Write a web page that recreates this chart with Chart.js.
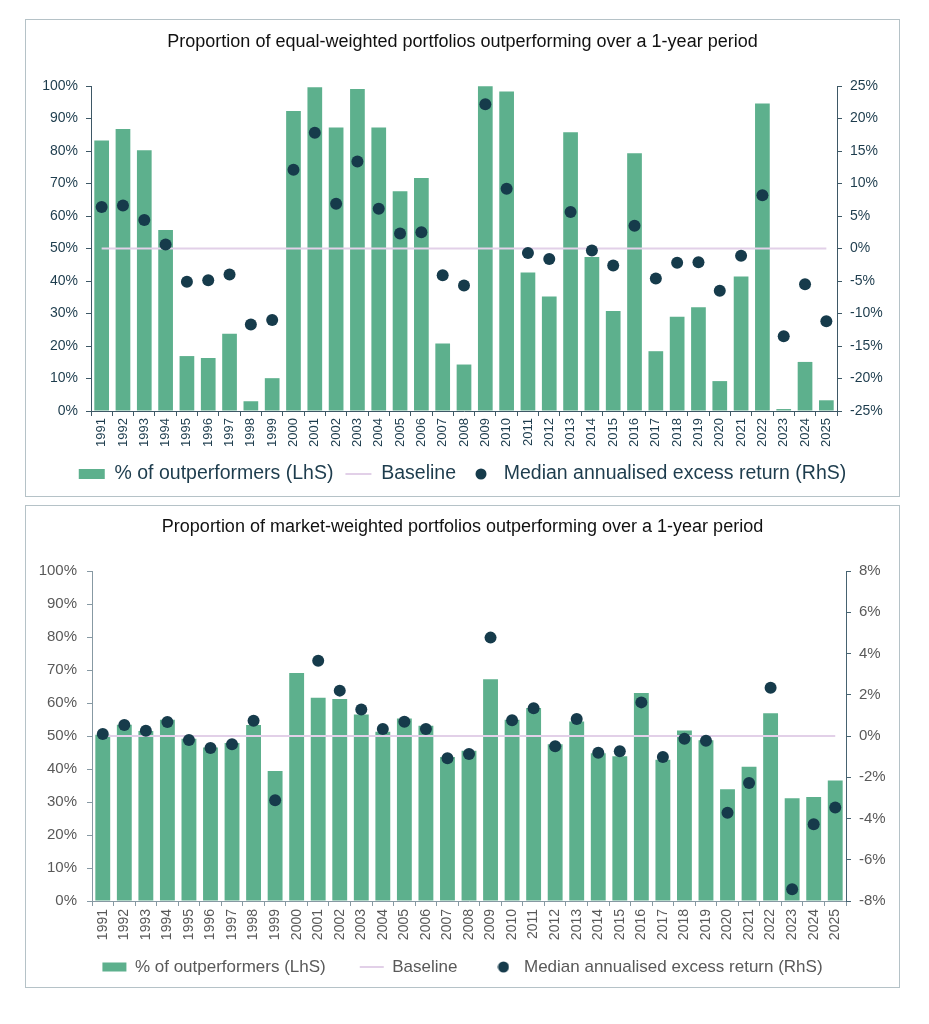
<!DOCTYPE html>
<html lang="en">
<head>
    <meta charset="UTF-8">
    <title>Outperforming portfolios over a 1-year period</title>
    <script src="https://cdn.jsdelivr.net/npm/chart.js"></script>
    <style>
        body {
            margin: 0;
            background: #fff;
            font-family: 'Liberation Sans', Arial, sans-serif;
        }
        .box {
            position: absolute;
            left: 25px;
            width: 873px;
            border: 1px solid #b5c2c7;
        }
        #boxTop { top: 19px; height: 476px; }
        #boxBottom { top: 505px; height: 481px; }
        canvas { display: block; }
    </style>
</head>
<body>

<div class="box" id="boxTop"><canvas id="equalChart" width="873" height="476"></canvas></div>
<div class="box" id="boxBottom"><canvas id="marketChart" width="873" height="481"></canvas></div>

<script>
    const years = ['1991', '1992', '1993', '1994', '1995', '1996', '1997', '1998', '1999', '2000',
        '2001', '2002', '2003', '2004', '2005', '2006', '2007', '2008', '2009', '2010',
        '2011', '2012', '2013', '2014', '2015', '2016', '2017', '2018', '2019', '2020',
        '2021', '2022', '2023', '2024', '2025'];

    // Equal-weighted: % of outperformers (LhS)
    const equalOutperformers = [83.2, 86.8, 80.2, 55.7, 16.9, 16.3, 23.8, 3.0, 10.1, 92.3,
        99.6, 87.2, 99.1, 87.2, 67.6, 71.7, 20.8, 14.3, 99.9, 98.3,
        42.6, 35.2, 85.8, 47.4, 30.8, 79.3, 18.4, 29.0, 31.9, 9.2,
        41.4, 94.6, 0.6, 15.1, 3.3];
    // Equal-weighted: median annualised excess return (RhS)
    const equalMedianExcess = [6.4, 6.6, 4.4, 0.6, -5.1, -4.9, -4.0, -11.7, -11.0, 12.1,
        17.8, 6.9, 13.4, 6.1, 2.3, 2.5, -4.1, -5.7, 22.2, 9.2,
        -0.7, -1.6, 5.6, -0.3, -2.6, 3.5, -4.6, -2.2, -2.1, -6.5,
        -1.1, 8.2, -13.5, -5.5, -11.2];

    // Market-weighted: % of outperformers (LhS)
    const marketOutperformers = [50.4, 53.4, 51.5, 54.9, 49.2, 46.5, 47.9, 53.3, 39.4, 69.1,
        61.6, 61.2, 56.5, 51.3, 55.3, 53.1, 43.6, 45.5, 67.2, 54.9,
        58.5, 47.5, 54.4, 44.8, 43.9, 63.0, 42.8, 51.7, 48.7, 33.9,
        40.7, 56.9, 31.1, 31.5, 36.5];
    // Market-weighted: median annualised excess return (RhS), no point shown for 2000
    const marketMedianExcess = [0.10, 0.53, 0.26, 0.68, -0.19, -0.58, -0.40, 0.74, -3.12, null,
        3.65, 2.20, 1.28, 0.34, 0.69, 0.34, -1.08, -0.87, 4.77, 0.76,
        1.34, -0.50, 0.82, -0.81, -0.74, 1.63, -1.02, -0.13, -0.23, -3.72,
        -2.28, 2.34, -7.43, -4.28, -3.47];

    const baselineLeft = 50;   // 50% of outperformers == 0% excess return

    const equalRightTicks = { min: -25, max: 25, step: 5 };
    const marketRightTicks = { min: -8, max: 8, step: 2 };

    const GREEN = '#5db08d';
    const DOT = '#163b4b';
    const LAVENDER = '#e2d0e8';
    const FONT = "'Liberation Sans', Arial, sans-serif";

    // small round swatch for the legend (a plain circle, not stretched by pointStyleWidth)
    const dotSwatch = document.createElement('canvas');
    dotSwatch.width = 12;
    dotSwatch.height = 12;
    const sctx = dotSwatch.getContext('2d');
    sctx.fillStyle = DOT;
    sctx.beginPath();
    sctx.arc(6, 6, 5.5, 0, Math.PI * 2);
    sctx.fill();

    // rotated year labels are clipped to the x scale box, give them room below
    const labelRoom = {
        id: 'labelRoom',
        afterLayout(chart) {
            const x = chart.scales.x;
            x.bottom = Math.max(x.bottom, x.top + 50);
        }
    };

    function buildChart(canvasId, cfg) {
        const pct = v => v + '%';
        return new Chart(document.getElementById(canvasId), {
            type: 'bar',
            data: {
                labels: years,
                datasets: [
                    {
                        label: '% of outperformers (LhS)',
                        data: cfg.bars,
                        backgroundColor: GREEN,
                        barPercentage: 0.69,
                        categoryPercentage: 1,
                        yAxisID: 'y',
                        order: 3,
                        legendStyle: 'rect', legendColor: GREEN, legendLine: 0
                    },
                    {
                        type: 'line',
                        label: 'Baseline',
                        data: [{ x: years[0], y: baselineLeft }, { x: years[years.length - 1], y: baselineLeft }],
                        borderColor: LAVENDER,
                        borderWidth: 2,
                        pointRadius: 0,
                        yAxisID: 'y',
                        order: 2,
                        legendStyle: 'line', legendColor: LAVENDER, legendLine: 2
                    },
                    {
                        type: 'line',
                        label: 'Median annualised excess return (RhS)',
                        data: cfg.dots,
                        showLine: false,
                        pointRadius: 6,
                        pointHoverRadius: 6,
                        pointBackgroundColor: DOT,
                        pointBorderColor: DOT,
                        pointBorderWidth: 0,
                        yAxisID: 'y1',
                        order: 1,
                        legendStyle: dotSwatch, legendColor: DOT, legendLine: 0
                    }
                ]
            },
            plugins: [labelRoom],
            options: {
                responsive: false,
                animation: false,
                layout: { padding: { left: 0, right: 0, top: 0, bottom: cfg.padBottom } },
                plugins: {
                    tooltip: { enabled: false },
                    title: {
                        display: true,
                        text: cfg.title,
                        color: cfg.titleColor,
                        font: { family: FONT, size: 18, weight: 'normal', lineHeight: 1.2 },
                        padding: cfg.titlePadding
                    },
                    legend: {
                        position: 'bottom',
                        labels: {
                            usePointStyle: true,
                            pointStyleWidth: cfg.legendBoxWidth,
                            boxHeight: cfg.legendBoxHeight,
                            padding: cfg.legendPadding,
                            color: cfg.textColor,
                            font: { family: FONT, size: cfg.legendSize },
                            generateLabels: chart => chart.data.datasets.map((ds, i) => ({
                                text: ds.label,
                                datasetIndex: i,
                                fillStyle: ds.legendColor,
                                strokeStyle: ds.legendColor,
                                lineWidth: ds.legendLine,
                                pointStyle: ds.legendStyle,
                                fontColor: cfg.textColor,
                                hidden: false
                            }))
                        }
                    }
                },
                scales: {
                    x: {
                        grid: { display: true, drawOnChartArea: false, drawTicks: true, tickLength: 5, color: cfg.axisColor },
                        border: { display: true, color: cfg.axisColor, width: 1 },
                        ticks: {
                            autoSkip: false, minRotation: 90, maxRotation: 90, padding: cfg.xPad,
                            color: cfg.textColor, font: { family: FONT, size: cfg.xSize }
                        },
                        afterFit: s => { s.height = cfg.xHeight; }
                    },
                    y: {
                        position: 'left',
                        min: 0, max: 100,
                        grid: { display: true, drawOnChartArea: false, drawTicks: true, tickLength: 5, color: cfg.axisColor },
                        border: { display: true, color: cfg.axisColor, width: 1 },
                        ticks: {
                            stepSize: 10, padding: cfg.yPad, callback: pct,
                            color: cfg.textColor, font: { family: FONT, size: cfg.tickSize }
                        },
                        afterFit: s => { s.width = cfg.leftWidth; }
                    },
                    y1: {
                        position: 'right',
                        min: cfg.right.min, max: cfg.right.max,
                        grid: { display: true, drawOnChartArea: false, drawTicks: true, tickLength: 5, color: cfg.rightAxisColor },
                        border: { display: true, color: cfg.rightAxisColor, width: 1 },
                        ticks: {
                            stepSize: cfg.right.step, padding: 8, callback: pct,
                            color: cfg.textColor, font: { family: FONT, size: cfg.tickSize }
                        },
                        afterFit: s => { s.width = cfg.rightWidth; }
                    }
                }
            }
        });
    }

    // Chart 1: equal-weighted portfolios
    buildChart('equalChart', {
        title: 'Proportion of equal-weighted portfolios outperforming over a 1-year period',
        bars: equalOutperformers,
        dots: equalMedianExcess,
        right: equalRightTicks,
        titleColor: '#111',
        textColor: '#1d3c4d',
        axisColor: '#3e5866',
        rightAxisColor: '#3e5866',
        titlePadding: { top: 11.2, bottom: 33.2 },
        tickSize: 14, xSize: 13, xPad: 2, yPad: 8,
        legendSize: 19.5, legendPadding: 12, legendBoxWidth: 26, legendBoxHeight: 10,
        xHeight: 41.25, padBottom: 2.25,
        leftWidth: 65, rightWidth: 62
    });

    // Chart 2: market-weighted portfolios
    buildChart('marketChart', {
        title: 'Proportion of market-weighted portfolios outperforming over a 1-year period',
        bars: marketOutperformers,
        dots: marketMedianExcess,
        right: marketRightTicks,
        titleColor: '#111',
        textColor: '#595959',
        axisColor: '#8799a3',
        rightAxisColor: '#466270',
        titlePadding: { top: 10.2, bottom: 33.2 },
        tickSize: 15, xSize: 14, xPad: 3, yPad: 10,
        legendSize: 17, legendPadding: 34, legendBoxWidth: 24, legendBoxHeight: 9,
        xHeight: 23.5, padBottom: 1.5,
        leftWidth: 66, rightWidth: 53
    });
</script>

</body>
</html>
